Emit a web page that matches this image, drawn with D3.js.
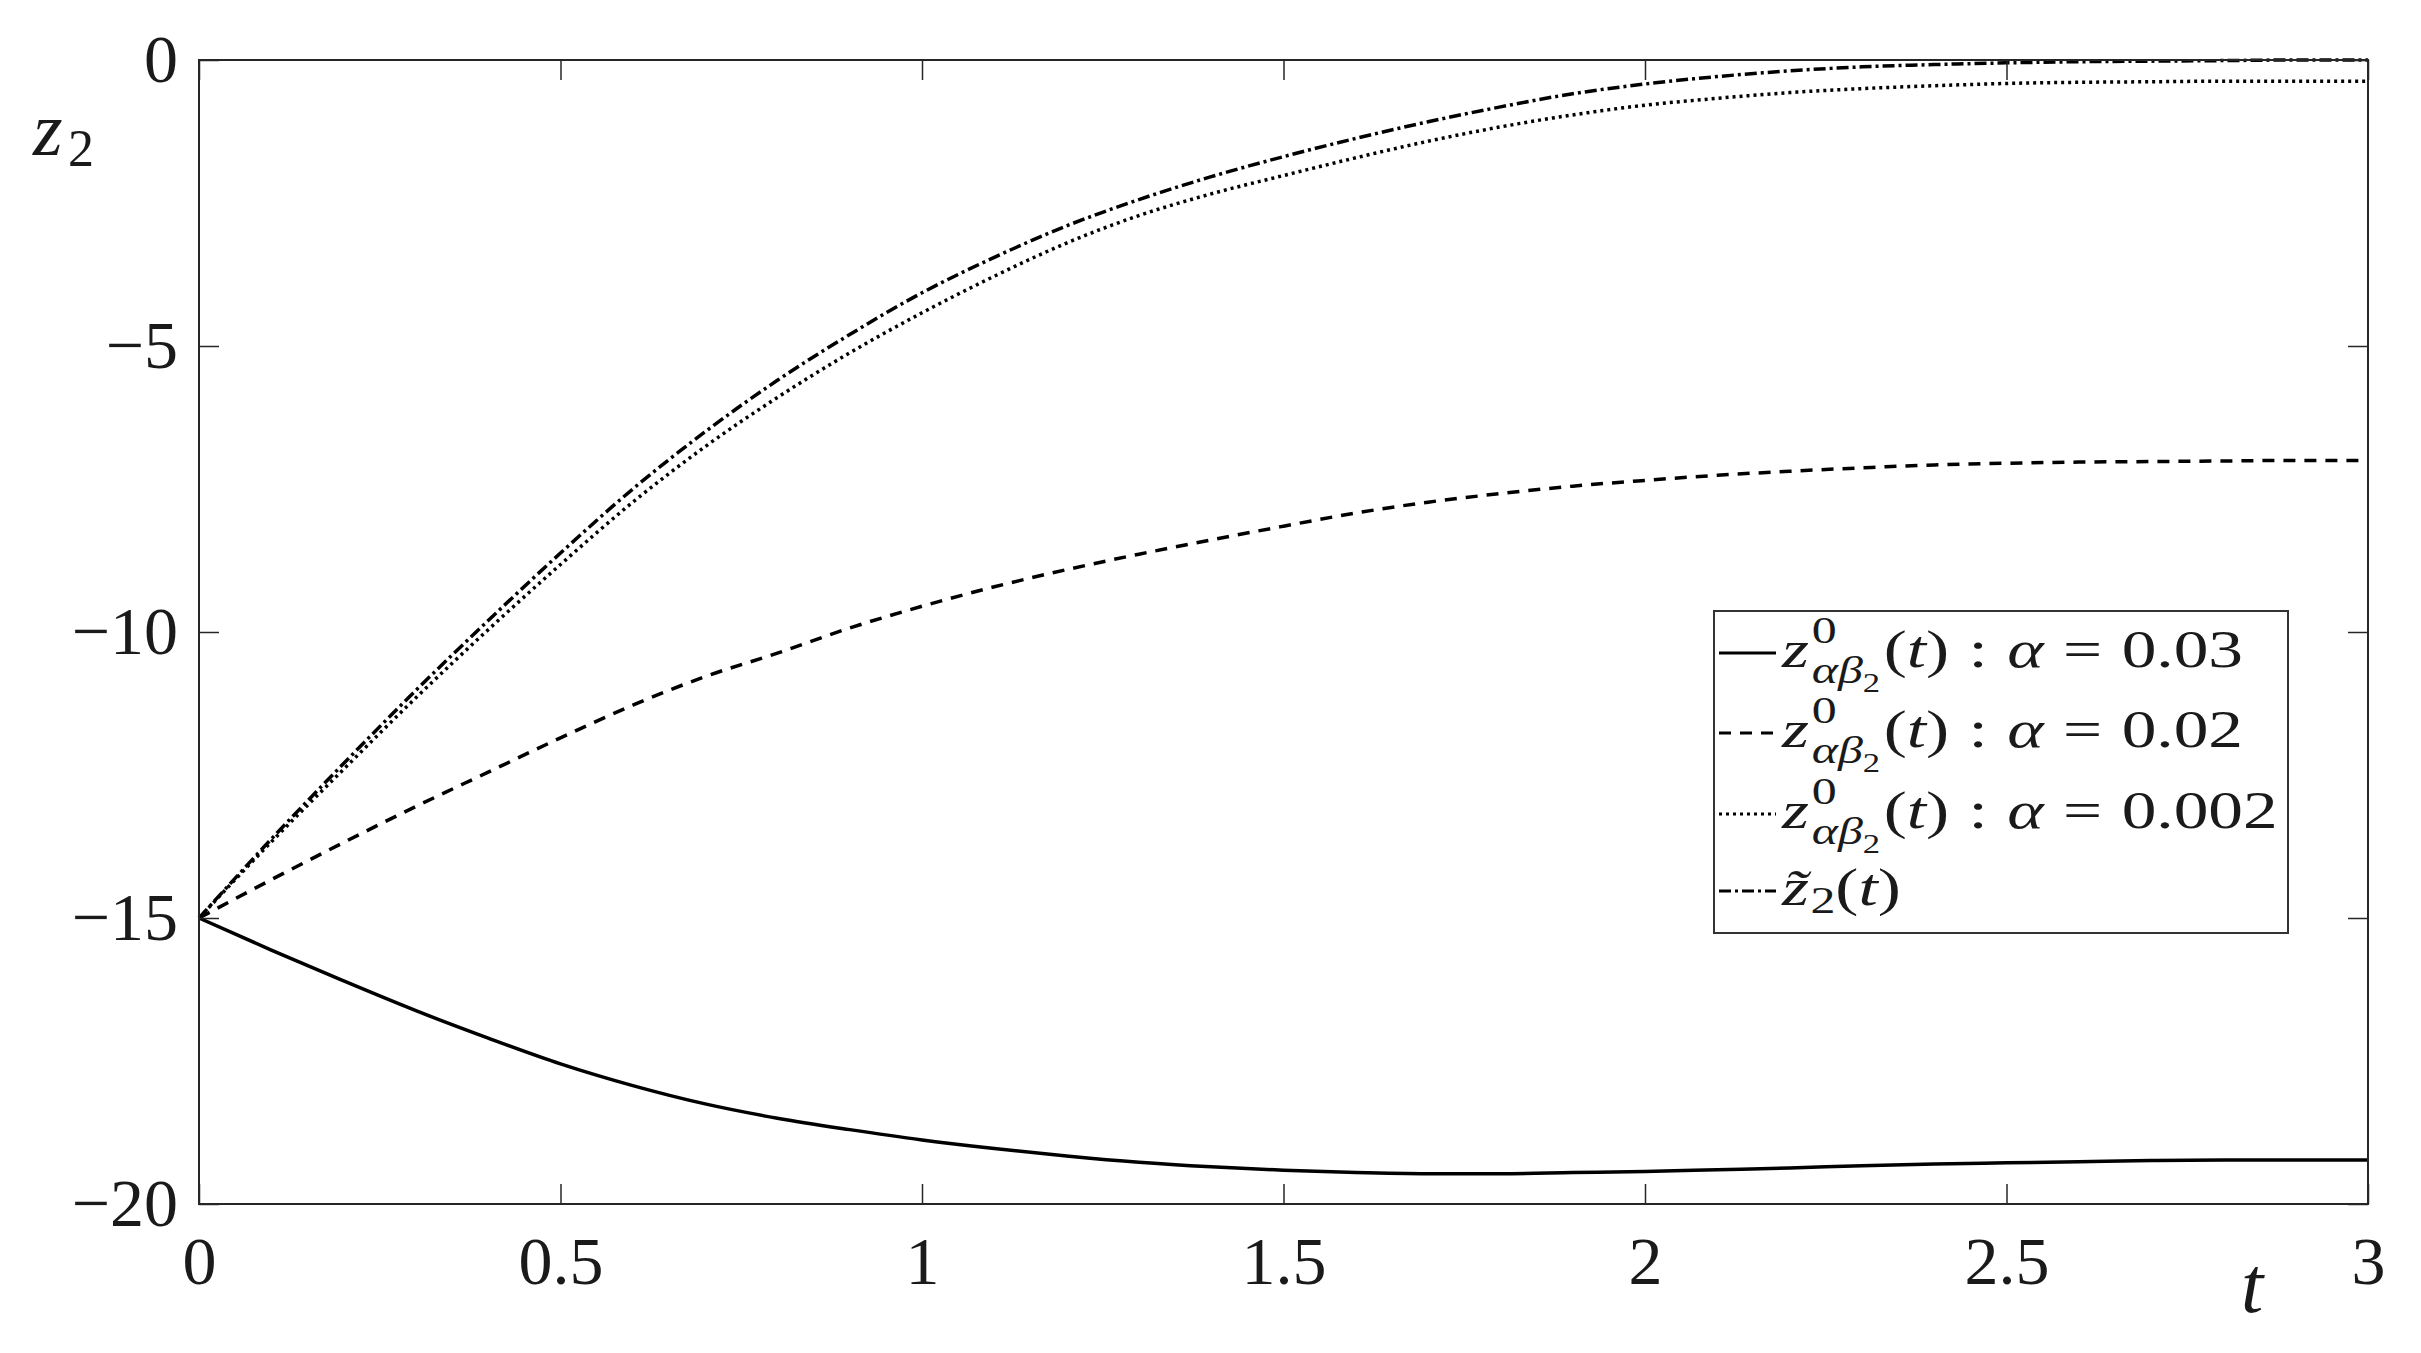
<!DOCTYPE html>
<html>
<head>
<meta charset="utf-8">
<script src="https://cdn.jsdelivr.net/npm/d3@7/dist/d3.min.js"></script>
<style>
  body { margin: 0; background: #fff; }
  text { font-family: "Liberation Serif", "Times New Roman", serif; fill: #1a1a1a; }
</style>
</head>
<body>
<svg id="chart" width="2421" height="1353"></svg>
<script>
// time grid and the four curves
const tValues = [0, 0.1, 0.2, 0.3, 0.4, 0.5, 0.6, 0.7, 0.8, 0.9, 1.0,
                 1.1, 1.2, 1.3, 1.4, 1.5, 1.6, 1.7, 1.8, 1.9, 2.0,
                 2.1, 2.2, 2.3, 2.4, 2.5, 2.6, 2.7, 2.8, 2.9, 3.0];
const zAlpha003 = [-15, -15.56, -16.1, -16.62, -17.1, -17.55, -17.93, -18.25, -18.5, -18.7, -18.88,
                   -19.03, -19.16, -19.27, -19.35, -19.41, -19.45, -19.47, -19.47, -19.45, -19.43,
                   -19.4, -19.37, -19.33, -19.3, -19.28, -19.26, -19.24, -19.23, -19.23, -19.23];
const zAlpha002 = [-15, -14.33, -13.68, -13.05, -12.45, -11.85, -11.28, -10.78, -10.37, -9.93, -9.55,
                   -9.21, -8.91, -8.64, -8.39, -8.15, -7.92, -7.73, -7.58, -7.45, -7.35,
                   -7.26, -7.19, -7.13, -7.08, -7.05, -7.03, -7.02, -7.01, -7.0, -7.0];
const zAlpha0002 = [-15, -13.67, -12.4, -11.15, -9.96, -8.82, -7.73, -6.76, -5.9, -5.12, -4.42,
                    -3.78, -3.2, -2.72, -2.34, -2.02, -1.71, -1.42, -1.17, -0.96, -0.79,
                    -0.67, -0.57, -0.5, -0.45, -0.41, -0.39, -0.38, -0.37, -0.37, -0.37];
const zTilde = [-15, -13.62, -12.3, -11.02, -9.8, -8.62, -7.5, -6.5, -5.6, -4.8, -4.07,
                -3.45, -2.9, -2.44, -2.04, -1.69, -1.37, -1.08, -0.82, -0.59, -0.42,
                -0.29, -0.19, -0.12, -0.08, -0.05, -0.03, -0.02, -0.01, 0, 0];

const xTicks = [0, 0.5, 1, 1.5, 2, 2.5, 3];
const xTickLabels = ["0", "0.5", "1", "1.5", "2", "2.5", "3"];
const yTicks = [0, -5, -10, -15, -20];
const yTickLabels = ["0", "\u22125", "\u221210", "\u221215", "\u221220"];
const alphaLabels = ["0.03", "0.02", "0.002"];

const svg = d3.select("#chart");
const plotLeft = 199, plotRight = 2368, plotTop = 60, plotBottom = 1204;

const x = d3.scaleLinear().domain([0, 3]).range([plotLeft, plotRight]);
const y = d3.scaleLinear().domain([-20, 0]).range([plotBottom, plotTop]);

svg.append("rect").attr("width", 2421).attr("height", 1353).attr("fill", "#fff");

// curves
const series = [
  { values: zAlpha003, dash: null },
  { values: zAlpha002, dash: "12,9" },
  { values: zAlpha0002, dash: "3,4" },
  { values: zTilde, dash: "12,4,3,4" }
];

const line = d3.line()
  .x((d, i) => x(tValues[i]))
  .y(d => y(d))
  .curve(d3.curveMonotoneX);

svg.append("g").selectAll("path")
  .data(series)
  .enter().append("path")
  .attr("d", d => line(d.values))
  .attr("fill", "none")
  .attr("stroke", "#000")
  .attr("stroke-width", 3.5)
  .attr("stroke-dasharray", d => d.dash);

// axes, ticks pointing inward like matlab
const axisColor = "#262626";
function styleAxis(g) {
  g.select(".domain").remove();
  g.selectAll(".tick line").attr("stroke", axisColor).attr("stroke-width", 1.5);
  g.selectAll(".tick text").attr("fill", "#1a1a1a").attr("font-size", 68)
    .style("font-family", "'Liberation Serif', serif");
}

svg.append("g")
  .attr("transform", "translate(0," + plotBottom + ")")
  .call(d3.axisBottom(x).tickValues(xTicks).tickSize(-20).tickPadding(32)
    .tickFormat((d, i) => xTickLabels[i]))
  .call(styleAxis);

svg.append("g")
  .attr("transform", "translate(0," + plotTop + ")")
  .call(d3.axisTop(x).tickValues(xTicks).tickSize(-20).tickFormat(""))
  .call(styleAxis);

svg.append("g")
  .attr("transform", "translate(" + plotLeft + ",0)")
  .call(d3.axisLeft(y).tickValues(yTicks).tickSize(-20).tickPadding(21)
    .tickFormat((d, i) => yTickLabels[i]))
  .call(styleAxis);

svg.append("g")
  .attr("transform", "translate(" + plotRight + ",0)")
  .call(d3.axisRight(y).tickValues(yTicks).tickSize(-20).tickFormat(""))
  .call(styleAxis);

svg.append("rect")
  .attr("x", x(0)).attr("y", y(0))
  .attr("width", x(3) - x(0)).attr("height", y(-20) - y(0))
  .attr("fill", "none").attr("stroke", axisColor).attr("stroke-width", 2);

// axis labels
svg.append("text").attr("x", 33).attr("y", 155).attr("font-size", 76)
  .style("font-style", "italic").text("z");
svg.append("text").attr("x", 68).attr("y", 166).attr("font-size", 52).text("2");
svg.append("text").attr("x", 2252).attr("y", 1312).attr("font-size", 80)
  .attr("text-anchor", "middle").style("font-style", "italic").text("t");

// legend
function put(g, px, py, str, size, italic) {
  const t = g.append("text").attr("x", px).attr("y", py).attr("font-size", size)
    .style("font-style", italic ? "italic" : "normal").text(str);
  return px + t.node().getComputedTextLength();
}

function legendRow(g, py, S, val) {
  let cx = put(g, 0, py, "z", S, true);
  const x0 = cx + S * 0.04;
  const xSup = put(g, x0, py - 0.46 * S, "0", 0.72 * S, false);
  let xSub = put(g, x0, py + 0.31 * S, "\u03b1\u03b2", 0.72 * S, true);
  xSub = put(g, xSub, py + 0.48 * S, "2", 0.5 * S, false);
  cx = Math.max(xSup, xSub) + 0.05 * S;
  cx = put(g, cx, py, "(", S, false);
  cx = put(g, cx, py, "t", S, true);
  cx = put(g, cx, py, ")", S, false);
  cx = put(g, cx + 0.28 * S, py, ":", S, false);
  cx = put(g, cx + 0.28 * S, py, "\u03b1", S, true);
  cx = put(g, cx + 0.28 * S, py, "=", S, false);
  cx = put(g, cx + 0.28 * S, py, val, S, false);
  return cx;
}

const legX = 1714, legY = 611, legW = 574, legH = 322;
const rowBase = [667, 747, 828, 905];
const S = 53;

svg.append("rect").attr("x", legX).attr("y", legY).attr("width", legW).attr("height", legH)
  .attr("fill", "#fff").attr("stroke", "#333").attr("stroke-width", 2);

series.forEach((s, i) => {
  svg.append("line")
    .attr("x1", legX + 5).attr("x2", legX + 62)
    .attr("y1", rowBase[i] - 14).attr("y2", rowBase[i] - 14)
    .attr("stroke", "#000").attr("stroke-width", 3)
    .attr("stroke-dasharray", s.dash);
});

const legText = svg.append("g");
let rowWidth = 0;
alphaLabels.forEach((a, i) => {
  const w = legendRow(legText, rowBase[i], S, a);
  if (i === 0) rowWidth = w;
});
// last row: z tilde (combining tilde keeps it one glyph)
{
  const py = rowBase[3];
  let cx = put(legText, 0, py, "z\u0303", S, true);
  cx = put(legText, cx + 0.02 * S, py + 0.15 * S, "2", 0.72 * S, false);
  cx = put(legText, cx, py, "(", S, false);
  cx = put(legText, cx, py, "t", S, true);
  put(legText, cx, py, ")", S, false);
}
// stretch text horizontally so the first row spans the same width as in the figure
const kx = 461 / rowWidth;
legText.attr("transform", "translate(" + (legX + 68) + ",0) scale(" + kx + ",1)");
</script>
</body>
</html>
